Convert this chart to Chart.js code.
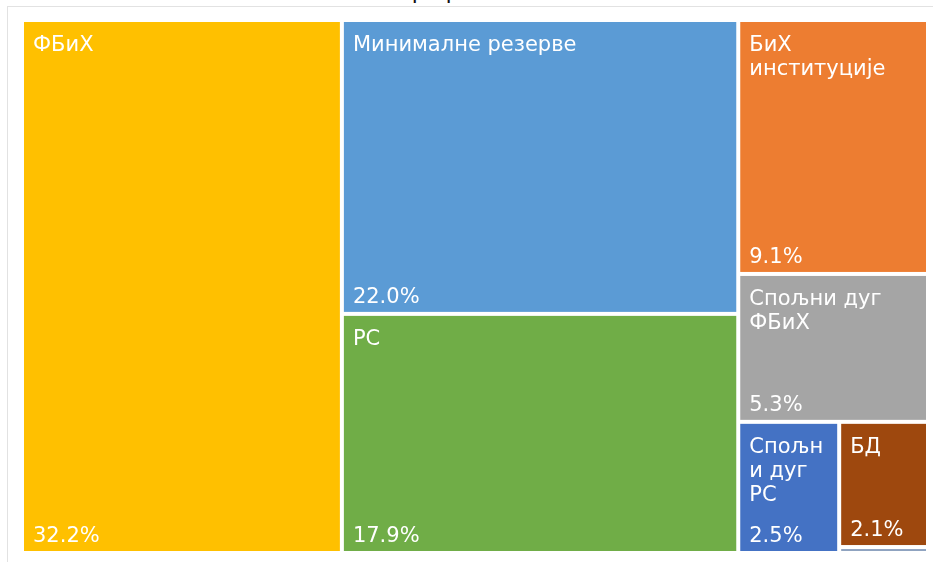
<!DOCTYPE html>
<html>
<head>
<meta charset="utf-8">
<script src="https://cdn.jsdelivr.net/npm/chart.js@4"></script>
<style>
  html, body { margin: 0; padding: 0; background: #fff; overflow: hidden; }
  #wrap { position: relative; width: 933px; height: 562px; }
  #frame { position: absolute; left: 7px; top: 6px; right: 0; bottom: 0;
           border-top: 1px solid #e2e2e2; border-left: 1px solid #e2e2e2; }
  #title { position: absolute; left: 0; width: 933px; top: -21px; text-align: center;
           font: 22px/26px "DejaVu Sans"; color: #111; white-space: nowrap; }
  #treemap { position: absolute; left: 0; top: 0; }
</style>
</head>
<body>
<div id="wrap">
  <div id="title">Графикон 6</div>
  <div id="frame"></div>
  <canvas id="treemap" width="933" height="562"></canvas>
</div>
<script>
// shares, %
const labels = ["ФБиХ", "Минималне резерве", "РС", "БиХ институције", "Спољни дуг ФБиХ", "Спољни дуг РС", "БД", "Остало"];
const values = [32.2, 22.0, 17.9, 9.1, 5.3, 2.5, 2.1, 0.1];
const colors = ["#FFC000", "#5B9BD5", "#70AD47", "#ED7D31", "#A5A5A5", "#4472C4", "#9E480E", "#8FA3C0"];

// squarified layout, works in data units, kx/ky = px per unit
function squarify(vals, rect, kx, ky) {
  const out = [];
  let rest = vals.map((v, i) => ({ i, v })).sort((a, b) => b.v - a.v);
  let r = { ...rect };

  while (rest.length) {
    const total = rest.reduce((s, d) => s + d.v, 0);
    const pw = r.w * kx, ph = r.h * ky;
    const side = Math.min(pw, ph);
    const area = pw * ph;

    const worst = row => {
      const s = row.reduce((a, d) => a + d.v, 0);
      const thick = (s / total) * area / side;
      let m = 0;
      row.forEach(d => {
        const len = (d.v / s) * side;
        m = Math.max(m, thick / len, len / thick);
      });
      return m;
    };

    let n = 1;
    while (n < rest.length && worst(rest.slice(0, n + 1)) <= worst(rest.slice(0, n))) n++;
    const row = rest.slice(0, n);
    const s = row.reduce((a, d) => a + d.v, 0);
    const frac = s / total;

    if (pw >= ph) {
      // column on the left
      const w = r.w * frac;
      let yy = r.y;
      row.forEach(d => {
        const h = r.h * d.v / s;
        out[d.i] = { x: r.x, y: yy, w, h };
        yy += h;
      });
      r = { x: r.x + w, y: r.y, w: r.w - w, h: r.h };
    } else {
      // row on top
      const h = r.h * frac;
      let xx = r.x;
      row.forEach(d => {
        const w = r.w * d.v / s;
        out[d.i] = { x: xx, y: r.y, w, h };
        xx += w;
      });
      r = { x: r.x, y: r.y + h, w: r.w, h: r.h - h };
    }
    rest = rest.slice(n);
  }
  return out;
}

function wrapText(ctx, text, maxW) {
  const lines = [];
  let line = "";
  text.split(" ").forEach(word => {
    let test = line ? line + " " + word : word;
    if (ctx.measureText(test).width <= maxW) { line = test; return; }
    if (line) { lines.push(line); line = ""; }
    let w = word;
    while (ctx.measureText(w).width > maxW && w.length > 1) {
      let k = w.length - 1;
      while (k > 1 && ctx.measureText(w.slice(0, k)).width > maxW) k--;
      lines.push(w.slice(0, k));
      w = w.slice(k);
    }
    line = w;
  });
  if (line) lines.push(line);
  return lines;
}

const treemapCells = {
  id: "treemapCells",
  afterDatasetsDraw(chart) {
    const { ctx, chartArea: ca, scales: { x, y } } = chart;
    const rects = squarify(values, { x: 0, y: 0, w: 100, h: 100 }, ca.width / 100, ca.height / 100);
    const gap = 2, pad = 9;

    ctx.save();
    rects.forEach((r, i) => {
      const x0 = x.getPixelForValue(r.x) + gap;
      const x1 = x.getPixelForValue(r.x + r.w) - gap;
      const y0 = y.getPixelForValue(r.y) + gap;
      const y1 = Math.max(y.getPixelForValue(r.y + r.h) - gap, y0 + 1.5);
      ctx.fillStyle = colors[i];
      ctx.fillRect(x0, y0, x1 - x0, y1 - y0);

      if (y1 - y0 < 40) return;
      ctx.fillStyle = "#fff";
      ctx.font = '21px "DejaVu Sans"';
      ctx.textBaseline = "alphabetic";
      const lines = wrapText(ctx, labels[i], x1 - x0 - 2 * pad);
      lines.forEach((ln, j) => ctx.fillText(ln, x0 + pad, y0 + 29 + j * 24));
      ctx.fillText(values[i].toFixed(1) + "%", x0 + pad, y1 - 9);
    });
    ctx.restore();
  }
};

new Chart(document.getElementById("treemap"), {
  type: "scatter",
  data: { datasets: [{ data: [], pointRadius: 0 }] },
  options: {
    responsive: false,
    animation: false,
    layout: { padding: { left: 22, right: 5, top: 20, bottom: 9 } },
    scales: {
      x: { type: "linear", min: 0, max: 100, display: false },
      y: { type: "linear", min: 0, max: 100, reverse: true, display: false }
    },
    plugins: { legend: { display: false }, tooltip: { enabled: false } }
  },
  plugins: [treemapCells]
});
</script>
</body>
</html>
